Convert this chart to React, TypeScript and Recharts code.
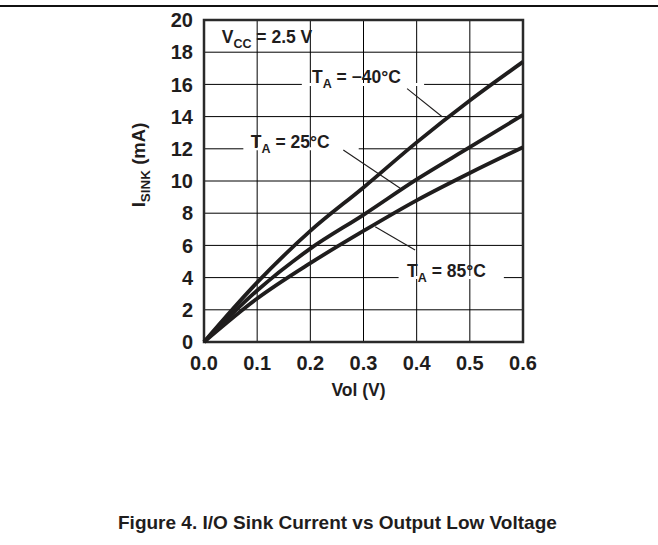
import { CartesianGrid, Line, LineChart, ReferenceArea, ReferenceDot, ReferenceLine, XAxis, YAxis } from 'recharts'

const INK = '#1f1d1d'
const FONT = '"Liberation Sans", Arial, Helvetica, sans-serif'

// I/O sink current (mA) against output low voltage (V)
const vol = [0, 0.1, 0.2, 0.3, 0.4, 0.5, 0.6]
const sinkMinus40 = [0, 3.7, 6.9, 9.6, 12.4, 15.0, 17.4]
const sink25 = [0, 3.2, 5.8, 7.9, 10.1, 12.1, 14.1]
const sink85 = [0, 2.7, 4.9, 6.9, 8.8, 10.5, 12.1]

const xTicks = [0, 0.1, 0.2, 0.3, 0.4, 0.5, 0.6]
const yTicks = [0, 2, 4, 6, 8, 10, 12, 14, 16, 18, 20]

// curve callouts: text anchor, gap cut into the gridline, leader line
const tempNames = ['\u221240', '25', '85']
const labelX = [0.203, 0.088, 0.382]
const labelY = [16, 12, 4]
const gapFrom = [0.184, 0.074, 0.366]
const gapTo = [0.414, 0.291, 0.564]
const leaderStart = [
  { x: 0.382, y: 15.74 },
  { x: 0.262, y: 11.93 },
  { x: 0.397, y: 5.71 }
]
const leaderEnd = [
  { x: 0.448, y: 13.99 },
  { x: 0.369, y: 9.55 },
  { x: 0.322, y: 7.16 }
]

const data = vol.map((v, i) => ({ v, m40: sinkMinus40[i], t25: sink25[i], t85: sink85[i] }))

const textStyle = { fontFamily: FONT, fontWeight: 700, fill: INK }

function TempLabel({ viewBox, name }: any) {
  const { x, y } = viewBox
  return (
    <text x={x} y={y - 1} fontSize={17.5} style={textStyle}>
      T<tspan dy={5} fontSize={12.5}>A</tspan>
      <tspan dy={-5}>{` = ${name}\u00b0C`}</tspan>
    </text>
  )
}

function VccLabel({ viewBox }: any) {
  const { x, y } = viewBox
  return (
    <text x={x} y={y} fontSize={17.5} style={textStyle}>
      V<tspan dy={5} fontSize={12.5}>CC</tspan>
      <tspan dy={-5}> = 2.5 V</tspan>
    </text>
  )
}

function YTitle({ viewBox }: any) {
  const cx = viewBox.x + viewBox.width - 59
  const cy = 165
  return (
    <text x={cx} y={cy} transform={`rotate(-90 ${cx} ${cy})`} textAnchor="middle" fontSize={18.5} style={textStyle}>
      I<tspan dy={5} fontSize={13.5}>SINK</tspan>
      <tspan dy={-5}> (mA)</tspan>
    </text>
  )
}

function XTitle({ viewBox }: any) {
  return (
    <text x={viewBox.x + viewBox.width / 2 - 5} y={viewBox.y + 54} textAnchor="middle" fontSize={17.5} style={textStyle}>
      Vol (V)
    </text>
  )
}

export default function App() {
  const tick = { fontSize: 20, fontFamily: FONT, fontWeight: 700, fill: INK }
  return (
    <div style={{ position: 'relative', width: 658, height: 545, background: '#fff' }}>
      <style>{'body{margin:0}'}</style>
      <div style={{ position: 'absolute', left: 0, top: 5, width: 658, height: 1.5, background: '#111' }} />
      <LineChart width={658} height={545} data={data} margin={{ top: 20, right: 135, bottom: 0, left: 0 }}>
        <CartesianGrid stroke="#000" strokeWidth={1} />
        <XAxis
          type="number"
          dataKey="v"
          domain={[0, 0.6]}
          ticks={xTicks}
          interval={0}
          tickFormatter={(v: number) => v.toFixed(1)}
          axisLine={false}
          tickLine={false}
          tickSize={0}
          tickMargin={14}
          height={203}
          tick={tick}
          label={{ content: XTitle }}
        />
        <YAxis
          type="number"
          domain={[0, 20]}
          ticks={yTicks}
          interval={0}
          axisLine={false}
          tickLine={false}
          tickSize={0}
          tickMargin={11}
          width={204}
          tick={tick}
          label={{ content: YTitle }}
        />
        {tempNames.map((name, i) => (
          <ReferenceLine
            key={`gap-${name}`}
            segment={[
              { x: gapFrom[i], y: labelY[i] },
              { x: gapTo[i], y: labelY[i] }
            ]}
            stroke="#fff"
            strokeWidth={3}
          />
        ))}
        {tempNames.map((name, i) => (
          <ReferenceLine
            key={`lead-${name}`}
            segment={[leaderStart[i], leaderEnd[i]]}
            stroke={INK}
            strokeWidth={1.1}
          />
        ))}
        <Line type="monotone" dataKey="m40" stroke={INK} strokeWidth={3.8} dot={false} isAnimationActive={false} />
        <Line type="monotone" dataKey="t25" stroke={INK} strokeWidth={3.8} dot={false} isAnimationActive={false} />
        <Line type="monotone" dataKey="t85" stroke={INK} strokeWidth={3.8} dot={false} isAnimationActive={false} />
        <ReferenceArea x1={0} x2={0.6} y1={0} y2={20} fill="none" stroke="#2a2a2a" strokeWidth={2.5} />
        {tempNames.map((name, i) => (
          <ReferenceDot
            key={`lab-${name}`}
            x={labelX[i]}
            y={labelY[i]}
            r={0}
            fill="none"
            stroke="none"
            label={(p: any) => <TempLabel {...p} name={name} />}
          />
        ))}
        <ReferenceDot x={0.0333} y={18.55} r={0} fill="none" stroke="none" label={(p: any) => <VccLabel {...p} />} />
      </LineChart>
      <div
        style={{
          position: 'absolute',
          left: 118,
          top: 513,
          fontFamily: FONT,
          fontWeight: 700,
          fontSize: 19,
          lineHeight: 1,
          color: INK,
          whiteSpace: 'nowrap'
        }}
      >
        Figure 4. I/O Sink Current vs Output Low Voltage
      </div>
    </div>
  )
}
